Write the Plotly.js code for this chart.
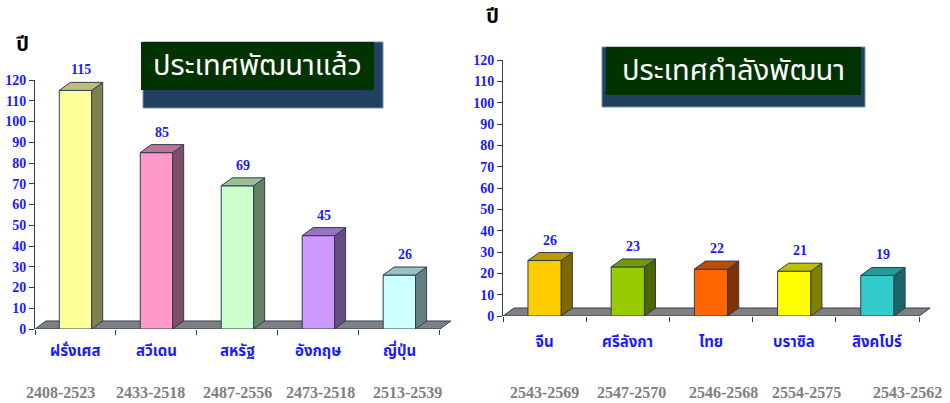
<!DOCTYPE html>
<html>
<head>
<meta charset="utf-8">
<script src="https://cdn.plot.ly/plotly-3.0.1.min.js"></script>
<style>
  html, body { margin: 0; padding: 0; background: #ffffff; }
  #chart { width: 950px; height: 403px; }
</style>
</head>
<body>
<div id="chart"></div>
<script>
// Developed countries: years needed to go from aged to fully aged society
const devCountries = ['ฝรั่งเศส', 'สวีเดน', 'สหรัฐ', 'อังกฤษ', 'ญี่ปุ่น'];
const devYears = [115, 85, 69, 45, 26];
const devPeriods = ['2408-2523', '2433-2518', '2487-2556', '2473-2518', '2513-2539'];

// Developing countries
const devingCountries = ['จีน', 'ศรีลังกา', 'ไทย', 'บราซิล', 'สิงคโปร์'];
const devingYears = [26, 23, 22, 21, 19];
const devingPeriods = ['2543-2569', '2547-2570', '2546-2568', '2554-2575', '2543-2562'];

const yTicks = [0, 10, 20, 30, 40, 50, 60, 70, 80, 90, 100, 110, 120];

// ---- styling ----
const devFronts = ['#ffff99', '#ff99cc', '#ccffcc', '#cc99ff', '#ccffff'];
const devingFronts = ['#ffcc00', '#99cc00', '#ff6600', '#ffff00', '#33cccc'];
const EDGE = '#2c3e55';
const BLUE = '#1a1aff';
const THAI = 'Noto Sans Thai, Tahoma, Loma, Garuda, Noto Sans, sans-serif';
const SERIF = 'Liberation Serif, Times New Roman, serif';
const BAR_W = 0.4;

function shade(hex, f) {
  const n = parseInt(hex.slice(1), 16);
  const r = Math.round(((n >> 16) & 255) * f);
  const g = Math.round(((n >> 8) & 255) * f);
  const b = Math.round((n & 255) * f);
  return 'rgb(' + r + ',' + g + ',' + b + ')';
}

const traces = [];
const shapes = [];
const annotations = [];

function panel(opts) {
  const { cats, vals, periods, fronts, xa, ya, dx, dy, catY, periodY, periodShift } = opts;
  const idx = cats.map((_, i) => i);
  const xr = xa === 'x' ? 'x' : 'x2';
  const yr = ya === 'y' ? 'y' : 'y2';
  const half = BAR_W / 2;

  // floor of the 3-D plot
  const n = cats.length;
  shapes.push({
    type: 'path', xref: xr, yref: yr, layer: 'below',
    path: 'M ' + (-0.5) + ',0 L ' + (n - 0.5) + ',0 L ' + (n - 0.5 + dx) + ',' + dy +
          ' L ' + (-0.5 + dx) + ',' + dy + ' Z',
    fillcolor: '#808080', line: { color: EDGE, width: 1 }
  });

  // front faces
  traces.push({
    type: 'bar', x: idx, y: vals, width: BAR_W, xaxis: xa, yaxis: ya,
    marker: { color: fronts, line: { color: EDGE, width: 1 } },
    hoverinfo: 'skip', showlegend: false
  });

  // side and top faces
  vals.forEach((v, i) => {
    traces.push({
      type: 'scatter', mode: 'lines', xaxis: xa, yaxis: ya, fill: 'toself',
      x: [i + half, i + half + dx, i + half + dx, i + half, i + half],
      y: [0, dy, v + dy, v, 0],
      fillcolor: shade(fronts[i], 0.5), line: { color: EDGE, width: 1 },
      hoverinfo: 'skip', showlegend: false
    });
    traces.push({
      type: 'scatter', mode: 'lines', xaxis: xa, yaxis: ya, fill: 'toself',
      x: [i - half, i - half + dx, i + half + dx, i + half, i - half],
      y: [v, v + dy, v + dy, v, v],
      fillcolor: shade(fronts[i], 0.75), line: { color: EDGE, width: 1 },
      hoverinfo: 'skip', showlegend: false
    });

    // value label above the bar
    annotations.push({
      xref: xr, yref: yr, x: i + dx / 2, y: v + dy, yanchor: 'bottom',
      yshift: 3, showarrow: false, text: String(v),
      font: { family: SERIF, size: 14, color: BLUE, weight: 'bold' }
    });
  });

  // country names and periods under the axis
  cats.forEach((c, i) => {
    annotations.push({
      xref: xr, yref: 'paper', x: i, y: catY, yanchor: 'middle', showarrow: false,
      text: c, font: { family: THAI, size: 15, color: BLUE, weight: 'bold' }
    });
    annotations.push({
      xref: xr, yref: 'paper', x: i, y: periodY, yanchor: 'middle', showarrow: false,
      xshift: periodShift[i],
      text: periods[i], font: { family: SERIF, size: 16, color: '#808080', weight: 'bold' }
    });
  });
}

panel({
  cats: devCountries, vals: devYears, periods: devPeriods, fronts: devFronts,
  xa: 'x', ya: 'y', dx: 0.136, dy: 3.86, catY: 0.127, periodY: 0.027,
  periodShift: [-15, -6, 0, 2, 8]
});
panel({
  cats: devingCountries, vals: devingYears, periods: devingPeriods, fronts: devingFronts,
  xa: 'x2', ya: 'y2', dx: 0.133, dy: 3.75, catY: 0.151, periodY: 0.027,
  periodShift: [0, 4, 12, 12, 30]
});

// title boxes with drop shadow
function titleBox(x0, x1, y0, y1, sx0, sx1, sy1, label) {
  const W = 950, H = 403;
  shapes.push({
    type: 'rect', xref: 'paper', yref: 'paper', layer: 'above',
    x0: sx0 / W, x1: sx1 / W, y0: 1 - y0 / H, y1: 1 - sy1 / H,
    fillcolor: '#22405f', line: { color: '#7f8fa3', width: 1 }
  });
  shapes.push({
    type: 'rect', xref: 'paper', yref: 'paper', layer: 'above',
    x0: x0 / W, x1: x1 / W, y0: 1 - y0 / H, y1: 1 - y1 / H,
    fillcolor: '#003300', line: { width: 0 }
  });
  annotations.push({
    xref: 'paper', yref: 'paper', x: (x0 + x1) / 2 / W, y: 1 - (y0 + y1) / 2 / H,
    xanchor: 'center', yanchor: 'middle', showarrow: false, text: label,
    font: { family: THAI, size: 29, color: '#ffffff' }
  });
}
titleBox(141, 374, 42, 90, 143, 383, 108, 'ประเทศพัฒนาแล้ว');
titleBox(606, 861, 47, 95, 602, 865, 107, 'ประเทศกำลังพัฒนา');

// unit label "ปี"
annotations.push({
  xref: 'paper', yref: 'paper', x: 22 / 950, y: 1 - 45 / 403, showarrow: false,
  xanchor: 'center', yanchor: 'middle', text: 'ปี',
  font: { family: THAI, size: 20, color: '#000000', weight: 'bold' }
});
annotations.push({
  xref: 'paper', yref: 'paper', x: 492 / 950, y: 1 - 17 / 403, showarrow: false,
  xanchor: 'center', yanchor: 'middle', text: 'ปี',
  font: { family: THAI, size: 20, color: '#000000', weight: 'bold' }
});

function xAxis(domain) {
  return {
    domain: domain, range: [-0.5, 4.65], fixedrange: true,
    tickmode: 'array', tickvals: [-0.5, 0.5, 1.5, 2.5, 3.5, 4.5],
    ticks: 'outside', ticklen: 5, tickcolor: EDGE, showticklabels: false,
    showline: false, showgrid: false, zeroline: false
  };
}
function yAxis(domain, anchor) {
  return {
    domain: domain, range: [0, 120], anchor: anchor, fixedrange: true,
    tickmode: 'array', tickvals: yTicks,
    ticks: 'outside', ticklen: 5, tickcolor: EDGE,
    showline: true, linecolor: EDGE, linewidth: 1,
    showgrid: false, zeroline: false,
    tickfont: { family: SERIF, size: 14, color: BLUE, weight: 'bold' }
  };
}

const layout = {
  width: 950, height: 403,
  margin: { l: 0, r: 0, t: 0, b: 0 },
  paper_bgcolor: '#ffffff', plot_bgcolor: 'rgba(0,0,0,0)',
  showlegend: false, barmode: 'overlay',
  xaxis: Object.assign(xAxis([35 / 950, 452 / 950]), { anchor: 'y' }),
  yaxis: yAxis([74 / 403, 323 / 403], 'x'),
  xaxis2: Object.assign(xAxis([503 / 950, 931.5 / 950]), { anchor: 'y2' }),
  yaxis2: yAxis([87 / 403, 343 / 403], 'x2'),
  shapes: shapes,
  annotations: annotations
};

Plotly.newPlot('chart', traces, layout, { staticPlot: true, displayModeBar: false });
</script>
</body>
</html>
